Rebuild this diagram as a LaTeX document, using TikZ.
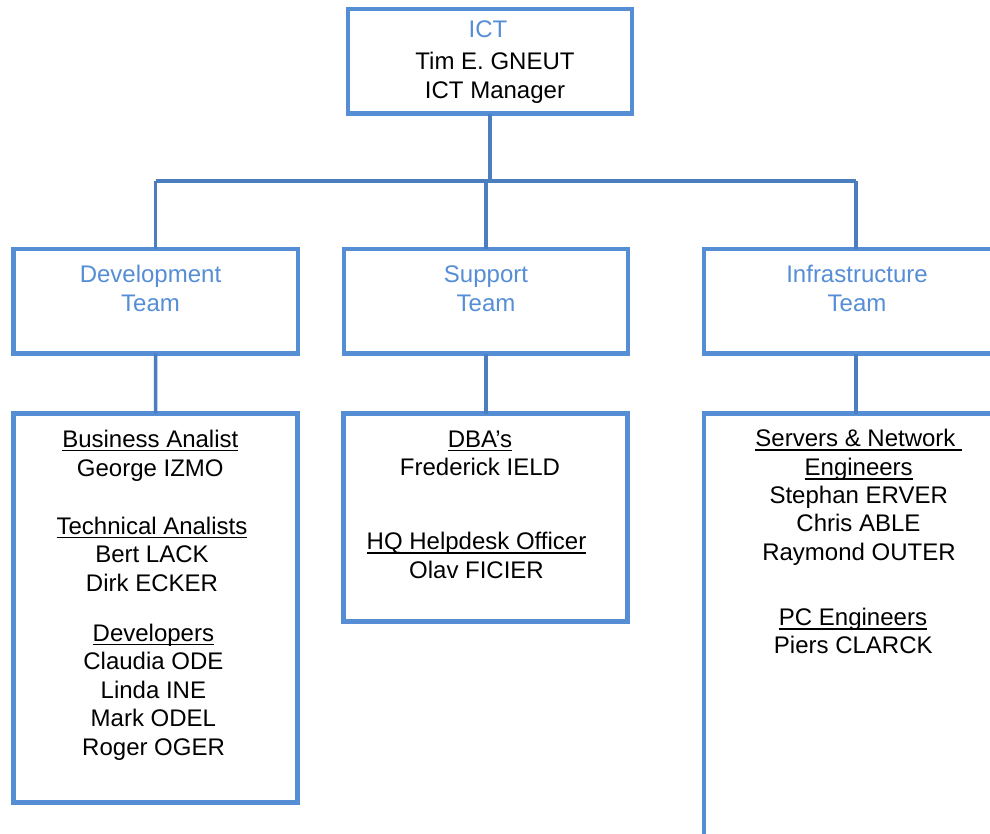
\documentclass[tikz,border=0pt]{standalone}
\usepackage{fontspec}
\setmainfont{Liberation Sans}
\definecolor{boxblue}{RGB}{85,142,213}
\definecolor{linkblue}{RGB}{74,126,191}
\definecolor{headblue}{RGB}{85,142,213}
\newcommand\ulin[1]{\setbox0=\hbox{#1}\rlap{\rule[-4.2bp]{\wd0}{1.5bp}}\box0}
\tikzset{
  orgbox/.style={draw=boxblue, line width=4.5bp, fill=white, rectangle, inner sep=0pt, outer sep=0pt},
  link/.style={draw=linkblue, line width=3.5bp},
  txt/.style={anchor=base, inner sep=0pt, outer sep=0pt, text=black, font=\fontsize{24bp}{28.5bp}\selectfont},
  btxt/.style={txt, text=headblue}
}
\begin{document}
\begin{tikzpicture}[x=1bp,y=-1bp]
\useasboundingbox (0,0) rectangle (990,834);
\clip (0,0) rectangle (990,834);
\fill[white] (0,0) rectangle (990,834);

% boxes
\node[orgbox, minimum width=284bp, minimum height=104.5bp] (ict) at (490,61.25) {};
\node[orgbox, minimum width=284.3bp, minimum height=104.5bp] (dev) at (155.65,301.25) {};
\node[orgbox, minimum width=284bp, minimum height=104.5bp] (sup) at (486,301.25) {};
\node[orgbox, minimum width=304bp, minimum height=104.5bp] (inf) at (856,301.25) {};
\node[orgbox, minimum width=284.2bp, minimum height=389bp] (devl) at (155.6,608) {};
\node[orgbox, minimum width=284bp, minimum height=208bp] (supl) at (485.5,517.5) {};
\node[orgbox, minimum width=304bp, minimum height=450bp] (infl) at (856,638.5) {};

% connectors
\coordinate (hm) at (490,181);
\coordinate (hl) at (155.65,181);
\coordinate (hr) at (856,181);
\draw[link] (ict.south) -- (hm);
\draw[link] (hl) -- (hr);
\draw[link] (hl) -- (dev.north);
\draw[link] (sup.north |- hm) -- (sup.north);
\draw[link] (hr) -- (inf.north);
\draw[link] (dev.south) -- (devl.north);
\draw[link] (sup.south) -- (sup.south |- supl.north);
\draw[link] (inf.south) -- (inf.south |- infl.north);

% ICT box
\node[btxt] (t1) at (488,37) {ICT};
\node[txt] (t2) at (495,69) {Tim E. GNEUT};
\node[txt] (t3) at (495,98) {ICT Manager};

% team boxes
\node[btxt] (d1) at (150.5,282) {Development};
\node[btxt] (d2) at (150.5,311) {Team};
\node[btxt] (s1) at (486,282) {Support};
\node[btxt] (s2) at (486,311) {Team};
\node[btxt] (i1) at (857,282) {Infrastructure};
\node[btxt] (i2) at (857,311) {Team};

% development members
\node[txt] (a1) at (150.3,447) {\ulin{Business Analist}};
\node[txt] (a2) at (150.3,476) {George IZMO};
\node[txt] (a3) at (152,534) {\ulin{Technical Analists}};
\node[txt] (a4) at (152,562) {Bert LACK};
\node[txt] (a5) at (152,591) {Dirk ECKER};
\node[txt] (a6) at (153.4,641) {\ulin{Developers}};
\node[txt] (a7) at (153.4,669) {Claudia ODE};
\node[txt] (a8) at (153.4,698) {Linda INE};
\node[txt] (a9) at (153.4,726) {Mark ODEL};
\node[txt] (a10) at (153.6,755) {Roger OGER};

% support members
\node[txt] (b1) at (480,447) {\ulin{DBA’s}};
\node[txt] (b2) at (480,475) {Frederick IELD};
\node[txt] (b3) at (476.5,549.5) {\ulin{HQ Helpdesk Officer}};
\node[txt] (b4) at (476.5,578) {Olav FICIER};

% infrastructure members
\node[txt] (c1) at (858.8,446.5) {\ulin{Servers \& Network\ }};
\node[txt] (c2) at (858.7,475.4) {\ulin{Engineers}};
\node[txt] (c3) at (858.7,503.5) {Stephan ERVER};
\node[txt] (c4) at (858.5,531.8) {Chris ABLE};
\node[txt] (c5) at (859,560.5) {Raymond OUTER};
\node[txt] (c6) at (853,625.6) {\ulin{PC Engineers}};
\node[txt] (c7) at (853.3,653.8) {Piers CLARCK};
\end{tikzpicture}
\end{document}
